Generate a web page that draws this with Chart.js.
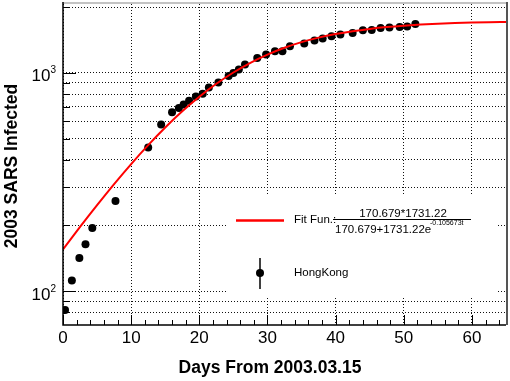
<!DOCTYPE html>
<html>
<head>
<meta charset="utf-8">
<script src="https://cdn.jsdelivr.net/npm/chart.js@4.4.1/dist/chart.umd.min.js"></script>
<style>
  html, body { margin: 0; padding: 0; background: #fff; }
  #wrap { width: 510px; height: 381px; }
</style>
</head>
<body>
<div id="wrap"><canvas id="c"></canvas></div>
<script>
// HongKong cumulative cases
const days = [0.3, 1.3, 2.4, 3.3, 4.3, 7.7, 12.5, 14.4, 16.0, 17.0, 17.7, 18.5, 19.5, 20.5, 21.4, 22.8,
  24.3, 25.0, 25.8, 26.7, 28.5, 29.8, 31.1, 32.2, 33.3, 35.4, 36.9, 38.1, 39.4, 40.7, 42.5, 44.0,
  45.3, 46.6, 47.9, 49.4, 50.5, 51.7];
const infected = [82, 112, 142, 164, 195, 259, 455, 580, 661, 691, 716, 745, 781, 804, 857, 904,
  969, 1000, 1036, 1093, 1172, 1214, 1257, 1257, 1325, 1364, 1407, 1437, 1472, 1500, 1525, 1569,
  1574, 1607, 1614, 1625, 1632, 1677];

// red fit curve, sampled along the drawn line
const fitDays = [0, 2.5, 5, 7.5, 10, 12.5, 15, 17.5, 20, 22.5, 25, 27.5, 30, 32.5, 35, 37.5, 40,
  42.5, 45, 47.5, 50, 52.5, 55, 57.5, 60, 62.5, 65];
const fitValues = [155.4, 197.0, 247.9, 309.6, 382.5, 467.0, 562.3, 667.0, 778.0, 891.9, 1005, 1113.5,
  1214, 1304.6, 1384, 1451.4, 1508, 1554.5, 1592, 1622.6, 1646.5, 1665.4, 1680, 1691.8, 1701, 1707.8, 1713];

const xTicks = [0, 10, 20, 30, 40, 50, 60];
const xMinorTicks = [2, 4, 6, 8, 12, 14, 16, 18, 22, 24, 26, 28, 32, 34, 36, 38, 42, 44, 46, 48, 52, 54, 56, 58, 62, 64];
const yGrid = [80, 90, 100, 200, 300, 400, 500, 600, 700, 800, 900, 1000, 2000];
const yLabelValues = [100, 1000];

const FONT = '"Liberation Sans", Arial, Helvetica, sans-serif';

const rootFrame = {
  id: 'rootFrame',
  afterDraw(chart) {
    const { ctx, chartArea: a, scales: { x, y } } = chart;
    ctx.save();

    // frame
    ctx.strokeStyle = '#c4c4c4';
    ctx.lineWidth = 2;
    ctx.beginPath(); ctx.moveTo(a.left, a.top - 1); ctx.lineTo(a.right, a.top - 1); ctx.stroke();
    ctx.strokeStyle = '#555';
    ctx.beginPath(); ctx.moveTo(a.right + 1, a.top - 2); ctx.lineTo(a.right + 1, a.bottom); ctx.stroke();
    ctx.strokeStyle = '#000';
    ctx.lineWidth = 1.5;
    ctx.beginPath();
    ctx.moveTo(a.left, a.top - 2); ctx.lineTo(a.left, a.bottom); ctx.lineTo(a.right, a.bottom);
    ctx.stroke();

    // inward ticks
    ctx.lineWidth = 1;
    ctx.beginPath();
    xTicks.forEach(v => { const px = Math.round(x.getPixelForValue(v)) + 0.5; ctx.moveTo(px, a.bottom); ctx.lineTo(px, a.bottom - 10); });
    xMinorTicks.forEach(v => { const px = Math.round(x.getPixelForValue(v)) + 0.5; ctx.moveTo(px, a.bottom); ctx.lineTo(px, a.bottom - 5); });
    yGrid.forEach(v => {
      const py = Math.round(y.getPixelForValue(v)) + 0.5;
      const len = yLabelValues.includes(v) ? 13 : 7;
      ctx.moveTo(a.left, py); ctx.lineTo(a.left + len, py);
    });
    ctx.stroke();

    // tick labels
    ctx.fillStyle = '#000';
    ctx.font = '17px ' + FONT;
    ctx.textAlign = 'center';
    ctx.textBaseline = 'middle';
    xTicks.forEach(v => ctx.fillText(String(v), x.getPixelForValue(v), 338));
    yLabelValues.forEach(v => {
      const py = y.getPixelForValue(v);
      const exp = String(Math.round(Math.log10(v)));
      ctx.font = '17px ' + FONT;
      ctx.textAlign = 'right';
      ctx.textBaseline = 'alphabetic';
      ctx.fillText('10', 50.5, py + 8.5);
      ctx.font = '10px ' + FONT;
      ctx.textAlign = 'left';
      ctx.fillText(exp, 50.5, py + 0.5);
    });

    // axis titles
    ctx.font = 'bold 17.5px ' + FONT;
    ctx.textAlign = 'center';
    ctx.textBaseline = 'middle';
    ctx.fillText('Days From 2003.03.15', 270, 368);
    ctx.save();
    ctx.translate(12.5, 166);
    ctx.rotate(-Math.PI / 2);
    ctx.fillText('2003 SARS Infected', 0, 0);
    ctx.restore();

    // legend
    ctx.fillStyle = '#fff';
    ctx.fillRect(226, 194, 270, 102);
    ctx.strokeStyle = '#f00';
    ctx.lineWidth = 2.5;
    ctx.beginPath(); ctx.moveTo(236, 220.5); ctx.lineTo(284, 220.5); ctx.stroke();
    ctx.fillStyle = '#000';
    ctx.font = '11.5px ' + FONT;
    ctx.textAlign = 'left';
    ctx.textBaseline = 'middle';
    ctx.fillText('Fit Fun.:', 294, 219.5);
    ctx.textAlign = 'center';
    ctx.textBaseline = 'alphabetic';
    ctx.fillText('170.679*1731.22', 403, 216.5);
    ctx.textAlign = 'left';
    ctx.fillText('170.679+1731.22e', 335, 232.5);
    ctx.font = '7px ' + FONT;
    ctx.fillText('-0.105673t', 430, 225);
    ctx.strokeStyle = '#000';
    ctx.lineWidth = 1;
    ctx.beginPath(); ctx.moveTo(333, 219.5); ctx.lineTo(471, 219.5); ctx.stroke();

    ctx.lineWidth = 1.5;
    ctx.beginPath(); ctx.moveTo(260, 258); ctx.lineTo(260, 289); ctx.stroke();
    ctx.beginPath(); ctx.arc(260, 273, 4, 0, Math.PI * 2); ctx.fill();
    ctx.font = '11.5px ' + FONT;
    ctx.textBaseline = 'middle';
    ctx.fillText('HongKong', 294, 273);

    ctx.restore();
  }
};

new Chart(document.getElementById('c'), {
  type: 'scatter',
  data: {
    datasets: [
      {
        label: 'Fit Fun.',
        type: 'line',
        data: fitDays.map((d, i) => ({ x: d, y: fitValues[i] })),
        borderColor: '#f00',
        borderWidth: 2,
        pointRadius: 0,
        cubicInterpolationMode: 'monotone',
        fill: false
      },
      {
        label: 'HongKong',
        data: days.map((d, i) => ({ x: d, y: infected[i] })),
        backgroundColor: '#000',
        borderWidth: 0,
        pointRadius: 4
      }
    ]
  },
  options: {
    responsive: true,
    maintainAspectRatio: false,
    animation: false,
    layout: { padding: { left: 63, top: 4, right: 4, bottom: 56 } },
    scales: {
      x: {
        type: 'linear',
        min: 0,
        max: 65,
        afterBuildTicks: s => { s.ticks = xTicks.map(v => ({ value: v })); },
        afterFit: s => { s.height = 0; },
        ticks: { display: false },
        grid: { color: '#111', lineWidth: 1, drawTicks: false },
        border: { display: false, dash: [1, 2] }
      },
      y: {
        type: 'logarithmic',
        min: 70,
        max: 2070,
        afterBuildTicks: s => { s.ticks = yGrid.map(v => ({ value: v })); },
        afterFit: s => { s.width = 0; },
        ticks: { display: false },
        grid: { color: '#111', lineWidth: 1, drawTicks: false },
        border: { display: false, dash: [1, 2] }
      }
    },
    plugins: { legend: { display: false }, tooltip: { enabled: false } }
  },
  plugins: [rootFrame]
});
</script>
</body>
</html>
